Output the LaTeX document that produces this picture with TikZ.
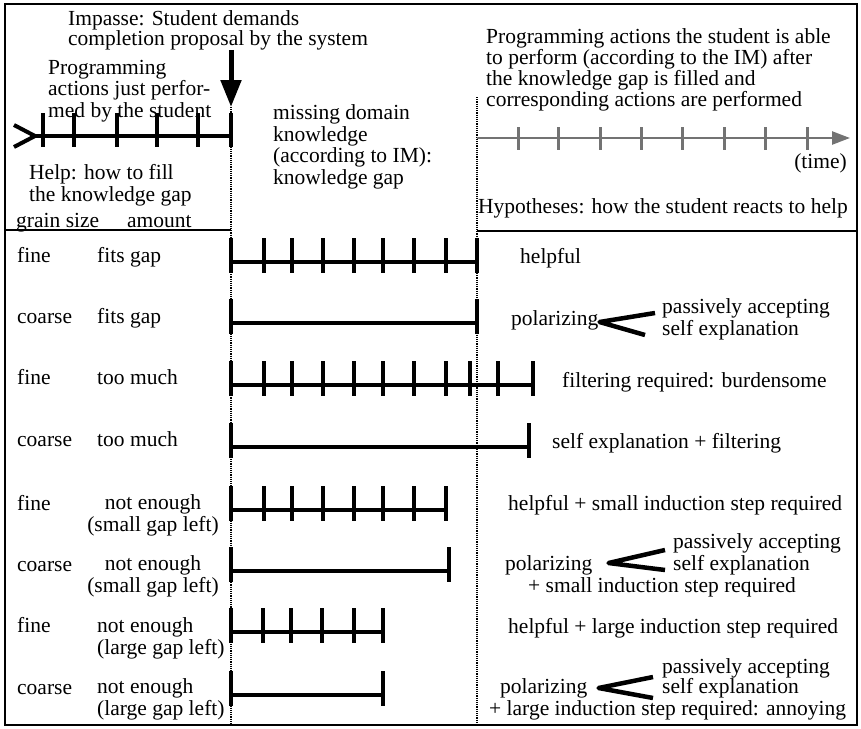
\documentclass[tikz,border=0pt]{standalone}
\usepackage{fontspec}
\setmainfont{Liberation Serif}
\usetikzlibrary{calc,arrows.meta}
\tikzset{
  txt/.style={inner sep=0pt,anchor=base west,font=\fontsize{21.5}{21.5}\selectfont},
  barline/.style={line width=3.5pt},
  tk/.style={line width=4pt},
  gapline/.style={line width=1.2pt,densely dotted},
  brk/.style={line width=4.5pt,line join=round},
  future/.style={black!55},
}
\begin{document}
\begin{tikzpicture}[x=1pt,y=-1pt]
  \useasboundingbox (0,0) rectangle (861,728);
  \draw[line width=2.5pt] (5,4) rectangle (857,725);

  % header (multi-line texts: base = last line)
  \node[txt,align=left,font=\fontsize{21.5}{20}\selectfont] (impasse) at (68,45) {Impasse: Student demands\\completion proposal by the system};
  \node[txt,align=left] (past) at (48,117) {Programming\\actions just perfor-\\med by the student};
  \node[txt,align=left] (gap) at (273,184) {missing domain\\knowledge\\(according to IM):\\knowledge gap};
  \node[txt,align=left] (help) at (29,201) {Help: how to fill\\the knowledge gap};
  \node[txt] (grain) at (16,227) {grain size};
  \node[txt] (amount) at (127,227) {amount};
  \node[txt,align=left,font=\fontsize{21.5}{19}\selectfont] (future) at (486,106) {Programming actions the student is able\\to perform (according to the IM) after\\the knowledge gap is filled and\\corresponding actions are performed};
  \node[txt,anchor=base east] (time) at (847,168) {(time)};
  \node[txt] (hyp) at (478,213) {Hypotheses: how the student reacts to help};

  \draw[line width=1.5pt] (5,230) -- (231,230) (477,231) -- (857,231);

  % gap borders
  \coordinate (gaptop) at (231,107);
  \coordinate (gapbot) at (231,725);
  \coordinate (fulltop) at (477,97);
  \coordinate (fullbot) at (477,725);
  \draw[gapline] (gaptop) -- (gapbot);
  \draw[gapline] (fulltop) -- (fullbot);
  \draw[line width=5pt,-{Triangle[length=27pt,width=20pt]}] (impasse.south -| gaptop) -- (gaptop);

  % time lines
  \draw[barline] (35,136) -- (231,136);
  \draw[tk] (14,125) -- (35,136) -- (14,147);
  \foreach \x in {43,74,117,157,198,231} \draw[tk] (\x,113) -- (\x,147);
  \draw[future,line width=2.5pt,-{Triangle[length=18pt,width=13pt]}] (477,138) -- (850,138);
  \foreach \x in {518,558,600,641,682,724,765,807} \draw[future,line width=3pt] (\x,127) -- (\x,150);

  % help bars
  \foreach \ay/\ex/\fine in {262/477/{264,292,323,354,383,414,446},
                             323/477/{477},
                             385/533/{264,292,323,354,383,414,446,470,498},
                             447/529/{529},
                             510/446/{264,292,323,354,383,414},
                             571/449/{449},
                             632/383/{263,291,322,354},
                             695/383/{383}}{
    \draw[barline] (231,\ay) -- (\ex,\ay);
    \draw[tk] (231,\ay-24) -- (231,\ay+11);
    \draw[tk] (\ex,\ay-24) -- (\ex,\ay+11);
    \foreach \x in \fine \draw[tk] (\x,\ay-24) -- (\x,\ay+11);
  }

  % grain size / amount
  \node[txt] (g1) at (17,262) {fine};
  \node[txt] (a1) at (97,262) {fits gap};
  \node[txt] (g2) at (17,323) {coarse};
  \node[txt] (a2) at (97,323) {fits gap};
  \node[txt] (g3) at (17,384) {fine};
  \node[txt] (a3) at (97,384) {too much};
  \node[txt] (g4) at (17,446) {coarse};
  \node[txt] (a4) at (97,446) {too much};
  \node[txt] (g5) at (17,510) {fine};
  \node[txt,align=center,anchor=base] (a5) at (153,531) {not enough\\(small gap left)};
  \node[txt] (g6) at (17,571) {coarse};
  \node[txt,align=center,anchor=base] (a6) at (153,592) {not enough\\(small gap left)};
  \node[txt] (g7) at (17,632) {fine};
  \node[txt,align=left] (a7) at (97,654) {not enough\\(large gap left)};
  \node[txt] (g8) at (17,694) {coarse};
  \node[txt,align=left] (a8) at (97,715) {not enough\\(large gap left)};

  % hypotheses
  \node[txt] (h1) at (520,263) {helpful};
  \node[txt] (pol2) at (511,325) {polarizing};
  \node[txt] (pa2) at (662,313) {passively accepting};
  \node[txt] (se2) at (662,335) {self explanation};
  \draw[brk] ($(pa2.base west)+(-7,0)$) -- ($(pol2.base east)+(1,-3)$) -- ($(se2.base west)+(-17,0)$);
  \node[txt] (h3) at (562,387) {filtering required: burdensome};
  \node[txt] (h4) at (552,448) {self explanation + filtering};
  \node[txt] (h5) at (508,510) {helpful + small induction step required};
  \node[txt] (pol6) at (505,570) {polarizing};
  \node[txt] (pa6) at (673,548) {passively accepting};
  \node[txt] (se6) at (673,570) {self explanation};
  \node[txt] (ind6) at (528,592) {+ small induction step required};
  \draw[brk] ($(pa6.base west)+(-8,2)$) -- ($(pol6.base east)+(16,-7)$) -- ($(se6.base west)+(-8,0)$);
  \node[txt] (h7) at (508,633) {helpful + large induction step required};
  \node[txt] (pol8) at (500,693) {polarizing};
  \node[txt] (pa8) at (662,673) {passively accepting};
  \node[txt] (se8) at (662,693) {self explanation};
  \node[txt] (ind8) at (489,715) {+ large induction step required: annoying};
  \draw[brk] ($(pa8.base west)+(-9,4)$) -- ($(pol8.base east)+(11,-5)$) -- ($(se8.base west)+(-9,5)$);
\end{tikzpicture}
\end{document}
